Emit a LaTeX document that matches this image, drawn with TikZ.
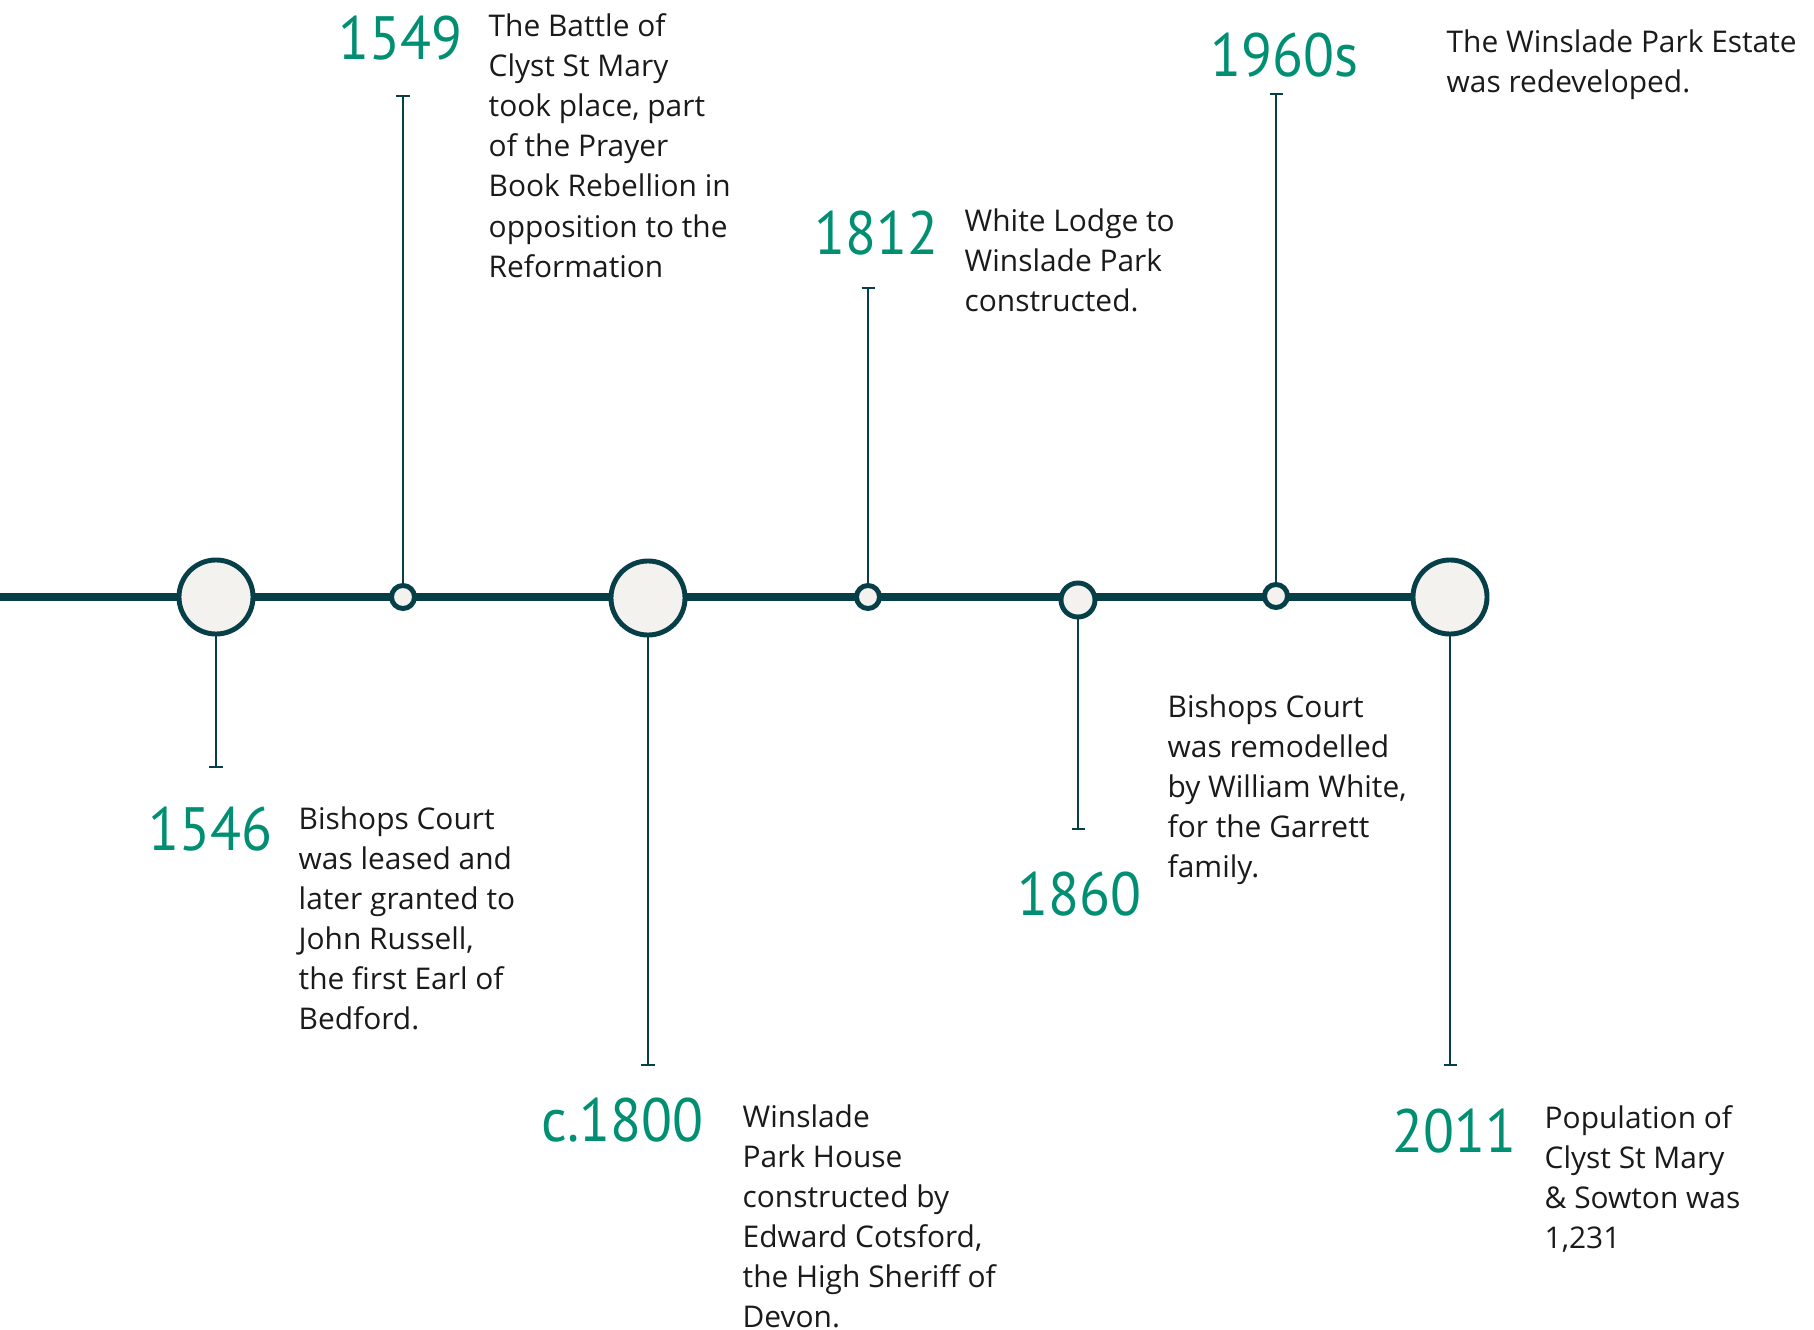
\documentclass[tikz,border=0pt]{standalone}
\usepackage{fontspec}
\setmainfont{Open Sans}
\newfontfamily\yearfont[FakeStretch=0.93]{PT Sans}
\usepackage{tikz}
\usetikzlibrary{arrows.meta}
\definecolor{axisblue}{HTML}{063F48}
\definecolor{yeargreen}{HTML}{008F72}
\definecolor{dotfill}{HTML}{F3F2EE}
\definecolor{notegrey}{HTML}{1A1A1A}
\tikzstyle{axis}=[
	-,
	draw=axisblue,
	line width=2pt
]
\tikzstyle{stem}=[
	-{Bar[width=3.7pt]},
	draw=axisblue,
	line width=0.7pt
]
\tikzstyle{event}=[
	circle,
	draw=axisblue,
	fill=dotfill,
	line width=1.4pt,
	inner sep=0pt
]
\tikzstyle{bigevent}=[
	event,
	minimum size=0.74cm
]
\tikzstyle{midevent}=[
	event,
	minimum size=0.34cm
]
\tikzstyle{smallevent}=[
	event,
	minimum size=0.23cm
]
\tikzstyle{year}=[
	anchor=base west,
	inner sep=0pt,
	text=yeargreen,
	font=\yearfont\fontsize{17.4}{20}\selectfont
]
\tikzstyle{note}=[
	anchor=north west,
	inner sep=0pt,
	align=left,
	text=notegrey,
	font=\fontsize{8.5}{11.4}\selectfont
]

\begin{document}
\begin{tikzpicture}[x=0.01cm,y=-0.01cm]
\useasboundingbox (0,0) rectangle (1814,1330);

% main line first, the dots go on top of it
\coordinate (start) at (0,597);
\node[bigevent] (2011) at (1450,597) {};
\draw[axis] (start) -- (2011);

\node[bigevent] (1546) at (216,597) {};
\node[smallevent] (1549) at (403,597) {};
\node[bigevent] (1800) at (648,598) {};
\node[smallevent] (1812) at (868,597) {};
\node[midevent] (1860) at (1078,600) {};
\node[smallevent] (1960) at (1276,596) {};

\coordinate (t1546) at (216,768);
\coordinate (t1549) at (403,95);
\coordinate (t1800) at (648,1066);
\coordinate (t1812) at (868,287);
\coordinate (t1860) at (1078,830);
\coordinate (t1960) at (1276,93);
\coordinate (t2011) at (1450,1066);

\draw[stem] (1546) -- (t1546);
\draw[stem] (1549) -- (t1549);
\draw[stem] (1800) -- (t1800);
\draw[stem] (1812) -- (t1812);
\draw[stem] (1860) -- (t1860);
\draw[stem] (1960) -- (t1960);
\draw[stem] (2011) -- (t2011);

\node[year] (y1546) at (148,850) {1546};
\node[year] (y1549) at (338,60) {1549};
\node[year] (y1800) at (541,1141) {c.1800};
\node[year] (y1812) at (814,254) {1812};
\node[year] (y1860) at (1017,915) {1860};
\node[year] (y1960) at (1210,77) {1960s};
\node[year] (y2011) at (1392,1152) {2011};

\node[note] (n1546) at (298,806) {Bishops Court\\was leased and\\later granted to\\John Russell,\\the first Earl of\\Bedford.};
\node[note] (n1549) at (488,13) {The Battle of\\Clyst St Mary\\took place, part\\of the Prayer\\Book Rebellion in\\opposition to the\\Reformation};
\node[note] (n1800) at (742,1104) {Winslade\\Park House\\constructed by\\Edward Cotsford,\\the High Sheriff of\\Devon.};
\node[note] (n1812) at (964,208) {White Lodge to\\Winslade Park\\constructed.};
\node[note] (n1860) at (1167,694) {Bishops Court\\was remodelled\\by William White,\\for the Garrett\\family.};
\node[note] (n1960) at (1446,29) {The Winslade Park Estate\\was redeveloped.};
\node[note] (n2011) at (1544,1105) {Population of\\Clyst St Mary\\\& Sowton was\\1,231};

\end{tikzpicture}
\end{document}
